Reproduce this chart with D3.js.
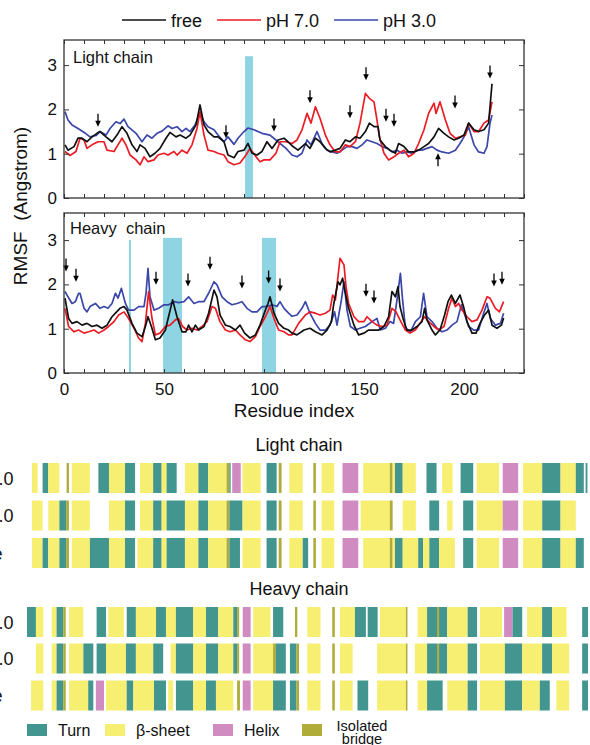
<html><head>
<title>RMSF and secondary structure</title>
<script src="https://d3js.org/d3.v7.min.js"></script>
<style>
  body { margin: 0; background: #fff; }
  svg text { font-family: "Liberation Sans", Arial, sans-serif; fill: #111; }
  .frame { fill: none; stroke: #333; stroke-width: 1.3px; }
  .axis line { stroke: #333; stroke-width: 1px; }
  .axis .domain { stroke: none; }
  .axis text { font-size: 17px; fill: #111; }
  .rmsf { fill: none; stroke-width: 1.7px; stroke-linejoin: round; }
  .arrow { stroke: #000; stroke-width: 1.3px; }
</style>
</head>
<body>
<svg id="chart" width="590" height="745"></svg>
<script>
// ---------- RMSF values, [residue, RMSF] ----------
const lightFree = [[0.5,1.20],[2,1.08],[5,1.16],[7,1.35],[9,1.35],[11.5,1.27],[14,1.38],[16.5,1.46],[18,1.50],[21,1.38],[24,1.27],[26.5,1.42],[29,1.61],[31.5,1.46],[34,1.20],[36.5,1.05],[38,1.20],[40.5,1.12],[43,0.93],[45.5,1.01],[48,1.12],[51,1.35],[53,1.48],[56,1.38],[58,1.42],[61,1.35],[63,1.42],[66,1.65],[68,2.10],[70,1.65],[72,1.50],[75,1.38],[77,1.38],[80,1.27],[82,0.97],[85,0.91],[87,1.05],[90,1.08],[92,1.23],[94,1.01],[96.5,0.97],[99,1.05],[101.5,1.27],[104,1.12],[107,1.31],[110,1.35],[112,1.27],[114,1.18],[117,1.08],[120.7,1.23],[123,1.12],[125.7,1.35],[128,1.27],[130.7,1.12],[133,1.04],[135.7,1.08],[138,1.12],[140.7,1.31],[143,1.27],[145.7,1.38],[148,1.35],[150.7,1.50],[152.7,1.69],[155,1.61],[157,1.61],[158,1.31],[160.7,1.16],[163,1.08],[165.7,1.01],[167.3,1.23],[170,1.16],[172.3,1.04],[175,1.04],[177.3,1.08],[180,1.16],[182.3,1.23],[185,1.38],[187.3,1.57],[190,1.46],[192.3,1.38],[195,1.31],[197.3,1.35],[200,1.42],[202.3,1.69],[205,1.54],[207.3,1.50],[210,1.54],[212.3,1.69],[214,2.58]];
const lightPH7 = [[0.5,1.05],[3,0.96],[6,1.05],[8,1.35],[10,1.31],[11.5,1.12],[14,1.20],[17,1.27],[20,1.27],[21.5,1.08],[25,1.05],[27,1.20],[29,1.35],[31,1.20],[33,0.97],[36,0.86],[38,0.75],[40,0.93],[42,0.82],[45,0.86],[47,0.97],[50,1.01],[52,0.97],[55,1.05],[56.5,0.97],[59,1.08],[61.5,1.01],[64,1.20],[66.5,1.57],[68,1.95],[70,1.42],[72,1.08],[75,1.05],[77,1.01],[80,0.97],[82,0.82],[85,0.75],[88,0.79],[91,0.97],[93,1.12],[96,0.93],[98,0.82],[100,0.86],[103,0.86],[106,1.01],[108,1.27],[111,1.27],[114,1.23],[116.5,1.31],[119,1.54],[121.5,1.91],[123.5,1.69],[125.7,2.06],[128,1.80],[130.7,1.42],[133,1.20],[135.7,1.04],[138,1.04],[140.7,1.20],[143,1.16],[145.7,1.27],[148,1.69],[150.7,2.36],[152.7,2.25],[155,2.17],[156.5,1.76],[157.7,1.38],[160,1.01],[162.3,0.86],[165,0.93],[167.3,1.01],[170,1.08],[172.3,0.93],[175,1.01],[177.3,1.23],[180,1.54],[182.3,1.91],[185,2.14],[186,1.91],[188,2.17],[190.7,1.76],[193,1.46],[195.7,1.35],[198,1.38],[200.7,1.42],[202.3,1.69],[205,1.50],[207.3,1.50],[210,1.69],[212.3,1.76],[214,2.17]];
const lightPH3 = [[0.5,1.95],[2,1.76],[4,1.65],[7,1.57],[10.7,1.46],[13,1.38],[16,1.41],[18,1.50],[21,1.42],[23,1.57],[26,1.72],[28,1.68],[30,1.78],[32,1.61],[36,1.46],[39,1.27],[41.5,1.42],[44,1.35],[46.5,1.46],[49,1.51],[52,1.63],[54,1.57],[56.5,1.61],[59,1.50],[61,1.57],[63,1.50],[65.5,1.65],[68,1.91],[70,1.72],[72,1.61],[75,1.54],[77,1.42],[80,1.27],[82,1.38],[85,1.21],[87,1.35],[90,1.50],[92,1.58],[95,1.54],[99,1.46],[103,1.42],[107,1.27],[111,1.12],[114,0.97],[116.5,0.93],[119,1.01],[121.5,1.31],[123.5,1.20],[126.5,1.50],[129,1.23],[131.5,1.08],[134,1.04],[136.5,1.01],[139,1.08],[141.5,1.16],[144,1.16],[146.5,1.12],[149,1.20],[151.5,1.31],[154,1.27],[156.5,1.23],[159,1.16],[161.5,1.12],[164,1.04],[166.5,1.08],[169,1.01],[171.5,1.04],[174,1.01],[176.5,1.08],[179,1.08],[181.5,1.12],[184,1.16],[186.5,1.08],[189,1.04],[192.3,1.01],[195.7,1.08],[198,1.23],[200,1.38],[202.3,1.61],[205,1.20],[207.3,1.04],[210,1.01],[211.5,1.16],[213,1.69],[214,1.87]];

const heavyFree = [[0.5,1.69],[2.3,1.23],[4,1.12],[6.5,1.16],[9,1.08],[11.5,1.12],[14,1.05],[16.5,1.08],[19,1.01],[21.5,1.08],[24,1.27],[25.7,1.35],[28,1.46],[30,1.50],[31.5,1.42],[34,1.12],[36.5,0.90],[39,0.82],[40.7,1.05],[42,1.27],[43.7,1.05],[45.7,0.75],[48,0.79],[50.7,0.97],[52.7,1.35],[54.3,1.65],[56.5,1.27],[59,0.93],[61,0.93],[62.3,1.08],[64,0.93],[65.7,1.08],[67.3,0.97],[70,1.05],[72.3,1.35],[75,1.87],[76.5,1.72],[78,1.31],[80.7,1.08],[83,1.05],[85.7,0.97],[88,1.08],[90.3,0.90],[93,0.79],[95.7,0.86],[98,1.08],[100.7,1.42],[102,1.57],[103,1.72],[105,1.35],[107.3,1.12],[110,1.01],[112.3,0.97],[114,0.90],[116.5,0.86],[120,0.97],[123,1.01],[125.7,0.93],[129,0.86],[131.5,0.97],[133.7,1.16],[134.8,1.54],[137,2.06],[138,1.99],[139.3,2.14],[140.7,1.80],[142.3,1.46],[145,1.08],[147.3,0.86],[150,0.90],[152.3,0.97],[155,0.97],[157.3,0.97],[160,1.05],[162.3,1.27],[164,1.84],[165.7,1.72],[167,1.95],[168,1.50],[169.7,1.20],[171.5,0.97],[174,0.97],[176.5,1.05],[179,1.16],[180.3,1.46],[181.5,1.20],[184,0.97],[185.7,0.86],[188,0.97],[190.3,1.31],[192,1.61],[193.7,1.76],[195.7,1.57],[198,1.76],[200,1.46],[201.5,1.16],[204,0.90],[206,0.90],[208,1.12],[210.3,1.31],[212.3,1.42],[214,1.08],[216.5,1.01],[218.7,1.08],[219.8,1.24]];
const heavyPH7 = [[0.5,1.46],[2.3,1.05],[5,0.93],[7.3,0.97],[10,0.90],[12.3,0.93],[15,0.97],[17.3,0.90],[20,0.97],[22.3,1.05],[25,1.16],[27.3,1.31],[30,1.38],[32.3,1.23],[35,1.01],[37.3,0.79],[39,0.71],[40.7,1.12],[42.3,1.84],[44,1.23],[45.7,0.86],[48,0.90],[50.7,1.05],[53,1.08],[55.7,1.20],[57.3,1.23],[59.3,1.05],[61.5,0.97],[64,1.01],[66.5,0.97],[69,1.05],[71.5,1.16],[74,1.50],[75.7,1.46],[78,1.16],[80.7,0.97],[83,0.93],[85.7,0.97],[88,0.86],[90.7,0.75],[93,0.71],[95.7,0.82],[98,1.05],[100.7,1.27],[103,1.50],[105,1.23],[107.3,0.97],[110,0.93],[112.3,0.86],[114,0.86],[117.3,1.12],[120.7,1.31],[123,1.38],[125.7,1.35],[128,1.31],[130.7,1.35],[133,1.42],[134.3,1.76],[135.7,1.65],[138,2.59],[140,2.44],[141,1.95],[142.3,1.57],[145,1.27],[147.3,1.16],[150,1.16],[151.5,1.27],[154,1.16],[156.5,1.08],[159,1.05],[161.5,1.08],[164,1.46],[166,1.38],[168,1.20],[170.7,0.97],[173,0.90],[175.7,0.97],[178,1.12],[180.3,1.27],[182.3,1.16],[185,1.05],[187.3,0.97],[190,1.05],[192.3,1.46],[194,1.69],[195.7,1.50],[197.3,1.57],[199,1.42],[201.5,1.27],[204,1.16],[206.5,1.20],[209,1.42],[211.5,1.72],[213,1.69],[215.7,1.46],[217.7,1.38],[219.8,1.61]];
const heavyPH3 = [[0.5,1.84],[2,1.72],[4,1.57],[5.7,1.61],[7.3,1.80],[8,1.80],[10,1.46],[11.5,1.38],[13,1.50],[15.7,1.57],[18,1.46],[20,1.50],[22,1.46],[24,1.57],[25.7,1.80],[27,1.69],[28.7,1.91],[30.7,1.57],[32.3,1.42],[35,1.42],[37.3,1.50],[40,1.50],[41,1.80],[42,2.36],[43,1.72],[45,1.42],[47.3,1.46],[50,1.54],[52.3,1.54],[55,1.61],[57.3,1.59],[60,1.61],[62.3,1.72],[65,1.57],[67.3,1.61],[70,1.61],[72.3,1.80],[75,2.06],[76.5,1.99],[79,1.72],[81.5,1.61],[84,1.54],[86.5,1.57],[89,1.61],[91.5,1.46],[94,1.38],[96.5,1.38],[99,1.50],[101.5,1.50],[104,1.54],[106.5,1.50],[108,1.61],[110,1.46],[112.3,1.35],[114,1.28],[116.5,1.31],[119,1.46],[120.7,1.61],[123,1.35],[125.7,1.12],[128,0.97],[130.7,0.97],[133,1.08],[135.3,1.38],[136.5,1.08],[138.7,1.65],[140,2.06],[141.5,1.42],[143.2,1.05],[145.7,0.97],[148,1.01],[150.7,1.05],[154,1.16],[156.5,1.23],[158.2,0.97],[160.7,1.01],[163,1.16],[164.8,1.12],[166.5,1.65],[168.2,2.25],[169.3,1.65],[170.7,1.01],[173.2,0.93],[175.7,1.16],[178.2,1.27],[179.8,1.80],[181.5,1.27],[184,1.16],[186.5,1.01],[189,0.93],[191.5,0.97],[194,1.08],[196.5,1.16],[198.7,1.54],[200.7,1.27],[202.3,1.05],[204.8,0.97],[207.3,0.97],[209.8,1.35],[211.5,1.57],[213.2,1.23],[215.7,1.08],[218.2,1.12],[219.8,1.35]];

// highlighted residue ranges [start, end, top RMSF]
const lightBands = [[90.5, 94.5, 3.2]];
const heavyBands = [[32.5, 33.5, 3.0], [49.5, 59, 3.05], [99, 106, 3.05]];

// arrows [residue, RMSF at tip, direction]
const lightArrows = [[17,1.61,"down"],[81,1.35,"down"],[105,1.50,"down"],[123,2.14,"down"],[143,1.80,"down"],[151,2.66,"down"],[161,1.72,"down"],[165,1.61,"down"],[187,1.01,"up"],[195.5,2.02,"down"],[213,2.70,"down"]];
const heavyArrows = [[1,2.29,"down"],[6,2.06,"down"],[46,1.99,"down"],[62,1.95,"down"],[73,2.33,"down"],[89,1.91,"down"],[102.3,2.02,"down"],[108,1.84,"down"],[151,1.72,"down"],[155,1.57,"down"],[215,1.95,"down"],[219,1.99,"down"]];

const seriesNames = ["free", "pH 7.0", "pH 3.0"];
const seriesColors = ["#111111", "#ec1c24", "#3a47a8"];
const yTickValues = [0, 1, 2, 3];
const xLabelValues = [0, 50, 100, 150, 200];

// ---------- secondary structure segments [start residue, end residue, type] ----------
// T = turn, B = beta-sheet, H = helix, I = isolated bridge
const lightSSpH7 = [[0,2.2,"B"],[4.1,6.3,"T"],[6.3,10.6,"B"],[13.4,14.3,"I"],[15.4,22.4,"B"],[25.7,29.8,"T"],[29.8,36,"B"],[36,39.9,"T"],[41.8,46.9,"B"],[46.9,50.2,"T"],[50.2,52.1,"B"],[52.1,56,"T"],[59.2,64.4,"B"],[64.4,68.2,"T"],[68.2,75.3,"B"],[75.3,76.4,"I"],[76.4,76.9,"T"],[77.5,80.8,"H"],[81.5,88.5,"B"],[90.8,94.7,"T"],[95.5,96.6,"I"],[99.6,104.8,"B"],[108.9,109.9,"I"],[112.1,117,"B"],[120.2,126.3,"H"],[128.2,138.5,"B"],[138.5,139.6,"I"],[139.6,140.5,"B"],[140.5,143.5,"T"],[143.5,148.6,"B"],[152.7,156.6,"T"],[158.8,162.8,"B"],[165.9,170.8,"T"],[172.1,180.8,"B"],[182.2,188.2,"H"],[190.1,197.5,"B"],[197.5,204.6,"T"],[204.6,210.5,"B"],[210.5,213.6,"T"],[214.3,215,"T"]];
const lightSSpH3 = [[0,4.1,"B"],[6.3,10.6,"B"],[10.6,13.2,"T"],[13.2,14.3,"I"],[15.4,22.4,"B"],[29.8,36,"B"],[36,39.9,"T"],[41.8,46.9,"B"],[46.9,50.2,"T"],[50.2,52.1,"B"],[52.1,59.2,"T"],[59.2,64.4,"B"],[64.4,68.2,"T"],[68.2,75.3,"B"],[75.3,76.4,"I"],[76.4,81.5,"T"],[81.5,88.5,"B"],[90.8,94.7,"T"],[95.5,96.6,"I"],[99.6,104.8,"B"],[108.9,109.9,"I"],[112.1,117,"B"],[120.2,126.3,"H"],[127.2,138.5,"B"],[138.5,139.6,"I"],[143.5,148.6,"B"],[153.8,157.6,"T"],[160.7,162.8,"B"],[166.9,170.8,"T"],[172.1,182.2,"B"],[182.2,188.2,"H"],[190.1,197.5,"B"],[197.5,204.6,"T"],[204.6,210.5,"B"]];
const lightSSfree = [[0,4.1,"B"],[4.1,6.3,"T"],[6.3,10.6,"B"],[10.6,13.2,"T"],[13.2,14.3,"I"],[15.4,22.4,"B"],[22.4,29.8,"T"],[29.8,36,"B"],[36,39.9,"T"],[40.8,46.9,"B"],[46.9,50.2,"T"],[50.2,52.1,"B"],[52.1,59.2,"T"],[59.2,64.4,"B"],[64.4,68.2,"T"],[68.2,75.3,"B"],[75.3,76.4,"I"],[76.4,80.5,"T"],[81.5,88.5,"B"],[90.8,94.7,"T"],[95.5,96.6,"I"],[99.6,104.8,"B"],[104.8,106.9,"T"],[108.9,109.9,"I"],[112.1,117,"B"],[120.2,126.3,"H"],[128.2,138.5,"B"],[138.5,139.6,"I"],[139.6,140.5,"B"],[140.5,143.5,"T"],[143.5,149.5,"B"],[149.5,151.4,"T"],[151.4,153.8,"B"],[153.8,157.6,"T"],[157.6,163.7,"B"],[166.9,170.8,"T"],[172.1,180.8,"B"],[182.2,188.2,"H"],[190.1,197.5,"B"],[197.5,204.6,"T"],[204.6,210.5,"B"],[210.5,213.6,"T"]];

const heavySSpH7 = [[0,3.5,"T"],[3.5,6.4,"B"],[9.7,11.6,"B"],[11.6,14.2,"T"],[14.2,15.2,"I"],[16.5,22.1,"B"],[27.3,31,"T"],[31.9,38,"B"],[39.1,42.7,"T"],[42.7,50.6,"B"],[50.6,54.5,"T"],[54.5,58.4,"B"],[58.4,65.2,"T"],[65.2,70.2,"B"],[70.2,75,"T"],[75,80.9,"B"],[80.9,82.4,"T"],[82.4,83.2,"I"],[84.6,87.7,"H"],[88.7,95.5,"B"],[96.5,100.5,"T"],[105.1,106,"I"],[109.9,115.1,"B"],[119.7,120.7,"I"],[122.7,128.6,"B"],[128.6,132.9,"T"],[133.6,137.5,"T"],[138.4,148.6,"B"],[148.6,149.2,"I"],[153.2,156.9,"B"],[156.9,160.8,"T"],[160.8,161.6,"I"],[161.6,164.8,"T"],[164.8,172.8,"B"],[172.8,176.5,"T"],[177.6,186.3,"B"],[187.1,190.4,"H"],[190.4,194.2,"T"],[196.1,202,"B"],[202,205.9,"T"],[205.9,211.6,"B"],[217.7,220,"T"]];
const heavySSpH3 = [[3.5,6.4,"B"],[9.7,11.6,"B"],[11.6,14.2,"T"],[14.2,15.2,"I"],[16.5,22.1,"B"],[22.1,26,"T"],[27.3,31,"T"],[31,38.8,"B"],[38.8,42.7,"T"],[42.7,49.5,"B"],[49.5,53.4,"T"],[56.3,58.4,"B"],[58.4,65.2,"T"],[65.2,70.2,"B"],[70.2,75,"T"],[75,80.9,"B"],[80.9,82.4,"T"],[82.4,83.2,"I"],[84.6,87.7,"H"],[88.7,96.5,"B"],[96.5,97.6,"I"],[97.6,101.5,"T"],[103.1,105.7,"T"],[105.7,106.7,"I"],[109.9,115.1,"B"],[119.7,120.7,"I"],[122.7,127.7,"B"],[137.3,148.6,"B"],[148.6,149.2,"I"],[152.1,156.9,"B"],[156.9,160.8,"T"],[160.8,161.6,"I"],[161.6,164.8,"T"],[164.8,172.8,"B"],[172.8,176.5,"T"],[177.6,187.4,"B"],[187.4,194.2,"T"],[194.2,202,"B"],[202,205.9,"T"],[205.9,212.6,"B"],[217.7,220,"T"]];
const heavySSfree = [[1.6,6.4,"B"],[9.7,11.6,"B"],[11.6,14.2,"T"],[14.2,15.2,"I"],[16.5,24,"B"],[24,26,"T"],[27,30.2,"H"],[31,39.1,"B"],[39.1,41.7,"T"],[41.7,49.8,"B"],[49.8,54.5,"T"],[55.4,57.3,"B"],[58.4,65.2,"T"],[65.2,70.2,"B"],[70.2,74.1,"T"],[74.1,80.9,"B"],[82.4,83.5,"I"],[84.6,87.7,"H"],[88.7,96.5,"B"],[96.5,101.5,"T"],[103.1,105.7,"T"],[105.7,106.7,"I"],[109.9,115.1,"B"],[119.7,120.7,"I"],[122.7,127.7,"B"],[129.6,133.8,"T"],[137.3,148.6,"B"],[148.6,149.2,"I"],[153.2,156.9,"B"],[156.9,163,"T"],[164.8,172.8,"B"],[172.8,176.5,"T"],[177.6,187.4,"B"],[187.4,194.2,"T"],[194.2,201.1,"B"],[201.1,205,"T"],[207.6,212.6,"B"],[217.7,220,"T"]];

const ssTypes = ["T", "B", "H", "I"];
const ssNames = ["Turn", "\u03b2-sheet", "Helix", "Isolated bridge"];
const ssColors = ["#43968f", "#f6ef72", "#d08cc0", "#afac3a"];
const rowLabels = ["pH 7.0", "pH 3.0", "free"];

// ---------- drawing ----------
const svg = d3.select("#chart");

const xScale = d3.scaleLinear().domain([0, 230]).range([64, 524]);

const panels = [
  { title: "Light chain", top: 40, bottom: 198, series: [lightFree, lightPH7, lightPH3], bands: lightBands, arrows: lightArrows, labels: false, titleX: 73, titleY: 63 },
  { title: "Heavy  chain", top: 213, bottom: 373, series: [heavyFree, heavyPH7, heavyPH3], bands: heavyBands, arrows: heavyArrows, labels: true, titleX: 70, titleY: 234 }
];

panels.forEach(p => {
  // 44.3 px per Angstrom in both panels
  const yScale = d3.scaleLinear().domain([0, (p.bottom - p.top) / 44.3]).range([p.bottom, p.top]);
  const g = svg.append("g");

  g.selectAll(".band").data(p.bands).join("rect")
    .attr("class", "band")
    .attr("x", d => xScale(d[0]))
    .attr("width", d => xScale(d[1]) - xScale(d[0]))
    .attr("y", d => yScale(d[2]))
    .attr("height", d => yScale(0) - yScale(d[2]))
    .attr("fill", "#8fd4e2");

  const line = d3.line().x(d => xScale(d[0])).y(d => yScale(d[1]));
  // draw blue, red, then black on top
  [2, 1, 0].forEach(i => {
    g.append("path").attr("class", "rmsf")
      .attr("d", line(p.series[i]))
      .attr("stroke", seriesColors[i]);
  });

  // arrows
  p.arrows.forEach(a => {
    const x = xScale(a[0]);
    const tip = yScale(a[1]);
    const dir = a[2] === "down" ? 1 : -1;
    g.append("line").attr("class", "arrow")
      .attr("x1", x).attr("x2", x)
      .attr("y1", tip - dir * 13).attr("y2", tip - dir * 5);
    g.append("path")
      .attr("d", `M${x - 2.8},${tip - dir * 6}L${x + 2.8},${tip - dir * 6}L${x},${tip}Z`)
      .attr("fill", "#000");
  });

  const ticks10 = d3.range(0, 231, 10);
  g.append("g").attr("class", "axis")
    .attr("transform", `translate(0,${p.bottom})`)
    .call(d3.axisBottom(xScale).tickValues(ticks10).tickSize(-4).tickPadding(10)
      .tickFormat(d => (p.labels && xLabelValues.includes(d)) ? d : ""));
  g.append("g").attr("class", "axis")
    .attr("transform", `translate(0,${p.top})`)
    .call(d3.axisTop(xScale).tickValues(ticks10).tickSize(-4).tickFormat(""));
  g.append("g").attr("class", "axis")
    .attr("transform", `translate(${xScale.range()[0]},0)`)
    .call(d3.axisLeft(yScale).tickValues(yTickValues).tickSize(-5).tickPadding(7).tickFormat(d3.format("d")));
  g.append("g").attr("class", "axis")
    .attr("transform", `translate(${xScale.range()[1]},0)`)
    .call(d3.axisRight(yScale).tickValues(yTickValues).tickSize(-5).tickFormat(""));

  g.append("rect").attr("class", "frame")
    .attr("x", xScale.range()[0]).attr("y", p.top)
    .attr("width", xScale.range()[1] - xScale.range()[0])
    .attr("height", p.bottom - p.top);

  g.append("text").attr("x", p.titleX).attr("y", p.titleY)
    .style("font-size", "16.5px").style("white-space", "pre")
    .text(p.title);
});

// axis titles
svg.append("text").attr("x", 294).attr("y", 417)
  .attr("text-anchor", "middle").style("font-size", "19px")
  .text("Residue index");
svg.append("text")
  .attr("transform", "translate(27,206) rotate(-90)")
  .attr("text-anchor", "middle").style("font-size", "19px").style("white-space", "pre")
  .text("RMSF  (Angstrom)");

// top legend
let lx = 122;
seriesNames.forEach((name, i) => {
  svg.append("line").attr("x1", lx).attr("x2", lx + 44).attr("y1", 20).attr("y2", 20)
    .attr("stroke", seriesColors[i]).attr("stroke-width", 1.6);
  const t = svg.append("text").attr("x", lx + 49).attr("y", 26.5)
    .style("font-size", "18px").text(name);
  lx += 49 + t.node().getComputedTextLength() + 15;
});

// secondary structure strips
const colorOf = d3.scaleOrdinal().domain(ssTypes).range(ssColors);
const strips = [
  { title: "Light chain", titleY: 451, rows: [lightSSpH7, lightSSpH3, lightSSfree], rowTops: [463, 500.5, 538], scale: d3.scaleLinear().domain([0, 216]).range([32, 590]) },
  { title: "Heavy chain", titleY: 595, rows: [heavySSpH7, heavySSpH3, heavySSfree], rowTops: [607, 643.5, 680.5], scale: d3.scaleLinear().domain([0, 220]).range([27, 588]) }
];
const rowHeight = 30;

strips.forEach(s => {
  svg.append("text").attr("x", 299).attr("y", s.titleY)
    .attr("text-anchor", "middle").style("font-size", "18px").text(s.title);
  s.rows.forEach((segs, i) => {
    const top = s.rowTops[i];
    svg.append("g").selectAll("rect").data(segs).join("rect")
      .attr("x", d => s.scale(d[0]))
      .attr("width", d => Math.max(s.scale(d[1]) - s.scale(d[0]), 1))
      .attr("y", top)
      .attr("height", rowHeight)
      .attr("fill", d => colorOf(d[2]));
    // labels sit mostly off the left edge, as in the source figure
    svg.append("text").attr("x", -13).attr("y", top + rowHeight / 2 + 6.5)
      .attr("text-anchor", "middle").style("font-size", "18px")
      .text(rowLabels[i]);
  });
});

// structure legend
const legendX = [27, 105, 213, 302];
ssNames.forEach((name, i) => {
  svg.append("rect").attr("x", legendX[i]).attr("y", 724).attr("width", 20).attr("height", 12)
    .attr("fill", ssColors[i]);
  if (i < 3) {
    svg.append("text").attr("x", legendX[i] + 31).attr("y", 735.5)
      .style("font-size", "16px").text(name);
  } else {
    const words = name.split(" ");
    svg.append("text").attr("x", 362).attr("y", 730.5)
      .attr("text-anchor", "middle").style("font-size", "14.5px").text(words[0]);
    svg.append("text").attr("x", 362).attr("y", 743.5)
      .attr("text-anchor", "middle").style("font-size", "14.5px").text(words[1]);
  }
});
</script>
</body></html>
